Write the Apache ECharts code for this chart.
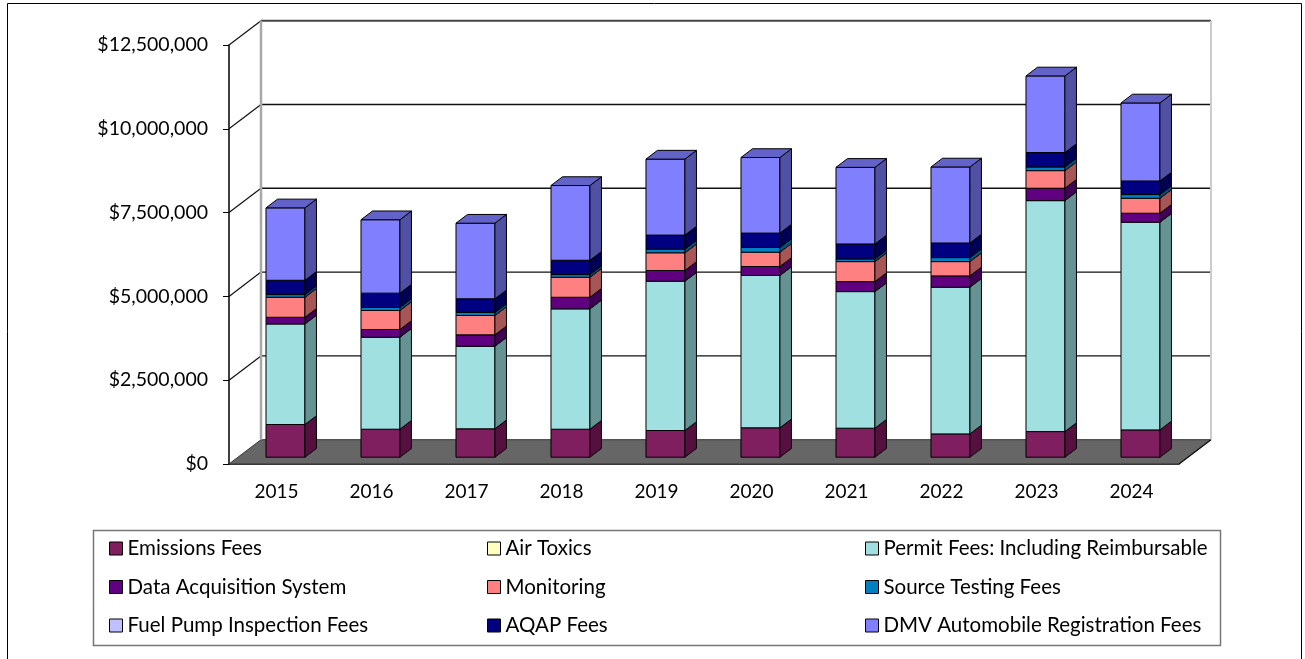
<!DOCTYPE html>
<html>
<head>
<meta charset="utf-8">
<script src="https://cdn.jsdelivr.net/npm/echarts@6/dist/echarts.min.js"></script>
<style>
  html, body { margin: 0; padding: 0; background: #fff; }
  #chart { width: 1305px; height: 659px; }
</style>
</head>
<body>
<div id="chart"></div>
<script>
const years = ['2015', '2016', '2017', '2018', '2019', '2020', '2021', '2022', '2023', '2024'];
const yTicks = [0, 2500000, 5000000, 7500000, 10000000, 12500000];

const emissionsFees = [975000, 835000, 847000, 835000, 796000, 877000, 865000, 695000, 764000, 814000];
const airToxics = [0, 0, 0, 0, 0, 0, 0, 0, 0, 0];
const permitFees = [3000000, 2745000, 2464000, 3590000, 4455000, 4544000, 4075000, 4376000, 6890000, 6196000];
const dataAcquisition = [199000, 230000, 340000, 346000, 319000, 268000, 298000, 337000, 370000, 268000];
const monitoring = [597000, 567000, 576000, 597000, 528000, 427000, 597000, 427000, 525000, 447000];
const sourceTesting = [80000, 90000, 90000, 80000, 110000, 140000, 80000, 120000, 110000, 110000];
const fuelPump = [0, 0, 0, 0, 0, 0, 0, 0, 0, 0];
const aqapFees = [427000, 427000, 409000, 427000, 418000, 430000, 447000, 436000, 430000, 406000];
const dmvFees = [2160000, 2190000, 2255000, 2230000, 2267000, 2255000, 2285000, 2267000, 2285000, 2327000];

// bottom -> top, colours: front / side / top
const seriesDefs = [
  { name: 'Emissions Fees', values: emissionsFees, color: '#7f1f5f', side: '#551040', top: '#66184c' },
  { name: 'Air Toxics', values: airToxics, color: '#ffffc0', side: '#aaaa80', top: '#d8d8a0' },
  { name: 'Permit Fees: Including Reimbursable', values: permitFees, color: '#a0e0e0', side: '#659393', top: '#80b8b8' },
  { name: 'Data Acquisition System', values: dataAcquisition, color: '#600080', side: '#400055', top: '#500068' },
  { name: 'Monitoring', values: monitoring, color: '#ff8080', side: '#a85555', top: '#d06868' },
  { name: 'Source Testing Fees', values: sourceTesting, color: '#0080c0', side: '#005580', top: '#0068a0' },
  { name: 'Fuel Pump Inspection Fees', values: fuelPump, color: '#c0c0ff', side: '#8080aa', top: '#a0a0d8' },
  { name: 'AQAP Fees', values: aqapFees, color: '#000080', side: '#000055', top: '#000068' },
  { name: 'DMV Automobile Registration Fees', values: dmvFees, color: '#8080ff', side: '#5050a5', top: '#6262c8' }
];

// oblique depth of the plot box, and where the bars sit in it
const D = [32, -24.3];
const T0 = 0.28, T1 = 0.64;
const BAR_W = 0.41;

const totals = years.map((y, i) => seriesDefs.reduce((s, d) => s + d.values[i], 0));

const fmtMoney = v => '$' + String(v).replace(/\B(?=(\d{3})+(?!\d))/g, ',');

function renderScene(params, api) {
  const cs = params.coordSys;
  const left = cs.x, right = cs.x + cs.width;
  const y0 = api.coord([0, 0])[1];
  const yTop = api.coord([0, yTicks[yTicks.length - 1]])[1];
  const children = [];
  children.push({
    type: 'polygon',
    shape: { points: [[left, y0], [right, y0], [right + D[0], y0 + D[1]], [left + D[0], y0 + D[1]]] },
    style: { fill: '#666666', stroke: '#333', lineWidth: 1 }
  });
  yTicks.forEach(v => {
    if (v === 0) return;
    const y = api.coord([0, v])[1];
    const isTop = v === yTicks[yTicks.length - 1];
    children.push({
      type: 'line',
      shape: { x1: left + D[0], y1: y + D[1], x2: right + D[0], y2: y + D[1] },
      style: { stroke: isTop ? '#444' : '#111', lineWidth: isTop ? 2 : 1.4 }
    });
    children.push({
      type: 'line',
      shape: { x1: left, y1: y, x2: left + D[0], y2: y + D[1] },
      style: { stroke: '#111', lineWidth: 1.2 }
    });
  });
  children.push({
    type: 'line',
    shape: { x1: left + D[0], y1: yTop + D[1], x2: left + D[0], y2: y0 + D[1] },
    style: { stroke: '#a8a8a8', lineWidth: 2.5 }
  });
  children.push({
    type: 'line',
    shape: { x1: right + D[0], y1: yTop + D[1], x2: right + D[0], y2: y0 + D[1] },
    style: { stroke: '#cccccc', lineWidth: 2 }
  });
  children.push({
    type: 'line',
    shape: { x1: right, y1: y0, x2: right + D[0], y2: y0 + D[1] },
    style: { stroke: '#111', lineWidth: 1.2 }
  });
  return { type: 'group', children: children };
}

function makeBarRenderer(def) {
  return function (params, api) {
    const i = api.value(0), lo = api.value(1), hi = api.value(2);
    if (hi - lo <= 0) return;
    const cLo = api.coord([i, lo]), cHi = api.coord([i, hi]);
    const bw = api.size([1, 0])[0] * BAR_W;
    const x0 = cLo[0] - bw / 2 + T0 * D[0];
    const x1 = x0 + bw;
    const yb = cLo[1] + T0 * D[1];
    const yt = cHi[1] + T0 * D[1];
    const ddx = (T1 - T0) * D[0], ddy = (T1 - T0) * D[1];
    const line = { stroke: '#000', lineWidth: 1 };
    const children = [
      { type: 'rect', shape: { x: x0, y: yt, width: bw, height: yb - yt }, style: Object.assign({ fill: def.color }, line) },
      { type: 'polygon', shape: { points: [[x1, yb], [x1, yt], [x1 + ddx, yt + ddy], [x1 + ddx, yb + ddy]] }, style: Object.assign({ fill: def.side }, line) }
    ];
    if (Math.abs(hi - totals[i]) < 1) {
      children.push({ type: 'polygon', shape: { points: [[x0, yt], [x1, yt], [x1 + ddx, yt + ddy], [x0 + ddx, yt + ddy]] }, style: Object.assign({ fill: def.top }, line) });
    }
    return { type: 'group', children: children };
  };
}

const running = years.map(() => 0);
const barSeries = seriesDefs.map(def => {
  const data = years.map((y, i) => {
    const lo = running[i];
    running[i] += def.values[i];
    return [i, lo, running[i]];
  });
  return {
    name: def.name,
    type: 'custom',
    renderItem: makeBarRenderer(def),
    encode: { x: 0, y: [1, 2] },
    itemStyle: { color: def.color, borderColor: '#000', borderWidth: 1 },
    data: data,
    z: 3
  };
});

const chart = echarts.init(document.getElementById('chart'));
chart.setOption({
  animation: false,
  textStyle: { fontFamily: 'Lato', color: '#000' },
  grid: { left: 229, right: 126, top: 45, bottom: 195 },
  xAxis: {
    type: 'category',
    data: years,
    axisLine: { lineStyle: { color: '#000', width: 1.5 } },
    axisTick: { length: 7, lineStyle: { color: '#000' } },
    axisLabel: { color: '#000', fontSize: 19, fontFamily: 'Lato', margin: 18 }
  },
  yAxis: {
    type: 'value',
    min: yTicks[0],
    max: yTicks[yTicks.length - 1],
    interval: yTicks[1] - yTicks[0],
    axisLine: { show: true, lineStyle: { color: '#000', width: 1.5 } },
    axisTick: { show: true, length: 6, lineStyle: { color: '#000' } },
    splitLine: { show: false },
    axisLabel: { color: '#000', fontSize: 19.5, fontFamily: 'Lato', margin: 21, formatter: fmtMoney }
  },
  legend: {
    left: 109,
    top: 538,
    width: 1140,
    padding: 0,
    itemWidth: 13,
    itemHeight: 13,
    itemGap: 17.5,
    selectedMode: false,
    icon: 'rect',
    textStyle: { fontSize: 20.5, fontFamily: 'Lato', color: '#000', width: 342, lineHeight: 21, overflow: 'truncate' },
    data: seriesDefs.map(d => ({ name: d.name, itemStyle: { color: d.color, borderColor: '#000', borderWidth: 1 } }))
  },
  graphic: [
    { type: 'rect', shape: { x: 7.5, y: 3.5, width: 1294, height: 700 }, style: { fill: 'none', stroke: '#000', lineWidth: 1 }, z: -1 },
    { type: 'rect', shape: { x: 93.5, y: 530.5, width: 1127, height: 115 }, style: { fill: 'none', stroke: '#777', lineWidth: 1.5 }, z: -1 }
  ],
  series: [{
    name: 'scene',
    type: 'custom',
    renderItem: renderScene,
    encode: { x: 0, y: 1 },
    data: [[0, 0]],
    silent: true,
    z: 1
  }].concat(barSeries)
});
</script>
</body>
</html>
